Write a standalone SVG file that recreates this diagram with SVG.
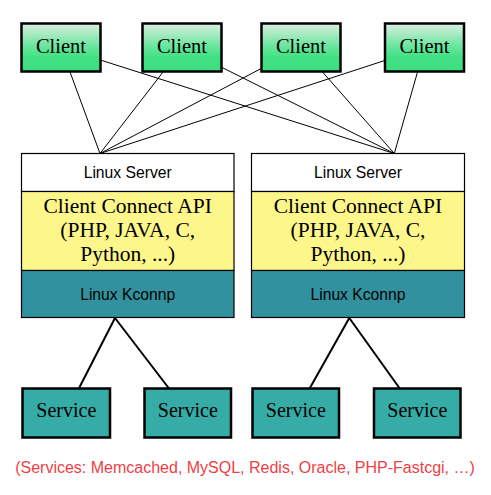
<svg xmlns="http://www.w3.org/2000/svg" width="491" height="495" viewBox="0 0 491 495">
<defs>
<linearGradient id="gClient" x1="0" y1="0" x2="0" y2="1">
<stop offset="0" stop-color="#dcefe2"/>
<stop offset="0.45" stop-color="#6ee6a0"/>
<stop offset="0.7" stop-color="#42e084"/>
<stop offset="1" stop-color="#3ede80"/>
</linearGradient>
<style>
.client rect{fill:url(#gClient);stroke:#000;stroke-width:2.5}
.service rect{fill:#35aca6;stroke:#000;stroke-width:2.5}
.serif{font-family:"Liberation Serif","Times New Roman",serif;fill:#000;text-anchor:middle}
.sans{font-family:"Liberation Sans",Arial,sans-serif;fill:#000;text-anchor:middle;font-size:15.7px}
.top{fill:#fff;stroke:#000;stroke-width:1.2}
.mid{fill:#fdf68a;stroke:#000;stroke-width:1.2}
.bot{fill:#31919e;stroke:#000;stroke-width:1.2}
.thin{stroke:#000;stroke-width:1;fill:none}
.thick{stroke:#000;stroke-width:2;fill:none}
</style>
</defs>
<rect width="491" height="495" fill="#fff"/>
<g id="connectors">
<line class="thin" x1="61" y1="47.5" x2="100" y2="153.5"/>
<line class="thin" x1="182" y1="47.5" x2="100" y2="153.5"/>
<line class="thin" x1="301" y1="47.5" x2="100" y2="153.5"/>
<line class="thin" x1="424.5" y1="47.5" x2="100" y2="153.5"/>
<line class="thin" x1="61" y1="47.5" x2="394.3" y2="153.5"/>
<line class="thin" x1="182" y1="47.5" x2="394.3" y2="153.5"/>
<line class="thin" x1="301" y1="47.5" x2="394.3" y2="153.5"/>
<line class="thin" x1="424.5" y1="47.5" x2="394.3" y2="153.5"/>
<line class="thick" x1="115" y1="318" x2="66.3" y2="413"/>
<line class="thick" x1="115" y1="318" x2="187.8" y2="413"/>
<line class="thick" x1="349.3" y1="318" x2="295.8" y2="413"/>
<line class="thick" x1="349.3" y1="318" x2="417.3" y2="413"/>
</g>
<g id="client1" class="client"><rect x="21.5" y="23.5" width="79" height="48"/><text class="serif" x="61" y="52.5" font-size="20.5">Client</text></g>
<g id="client2" class="client"><rect x="142.5" y="23.5" width="79" height="48"/><text class="serif" x="182" y="52.5" font-size="20.5">Client</text></g>
<g id="client3" class="client"><rect x="261.5" y="23.5" width="79" height="48"/><text class="serif" x="301" y="52.5" font-size="20.5">Client</text></g>
<g id="client4" class="client"><rect x="385" y="23.5" width="79" height="48"/><text class="serif" x="424.5" y="52.5" font-size="20.5">Client</text></g>
<g id="server1">
<rect class="top" x="21.5" y="153.5" width="212.5" height="38"/>
<rect class="mid" x="21.5" y="191.5" width="212.5" height="79"/>
<rect class="bot" x="21.5" y="270.5" width="212.5" height="47"/>
<text class="sans" x="127.7" y="178.3">Linux Server</text>
<text class="serif" font-size="21.5" x="127.7" y="213.3">Client Connect API</text>
<text class="serif" font-size="21.5" x="127.7" y="237.3">(PHP, JAVA, C,</text>
<text class="serif" font-size="21.5" x="127.7" y="261">Python, ...)</text>
<text class="sans" x="127.7" y="300">Linux Kconnp</text>
</g>
<g id="server2">
<rect class="top" x="251.5" y="153.5" width="213" height="38"/>
<rect class="mid" x="251.5" y="191.5" width="213" height="79"/>
<rect class="bot" x="251.5" y="270.5" width="213" height="47"/>
<text class="sans" x="358" y="178.3">Linux Server</text>
<text class="serif" font-size="21.5" x="358" y="213.3">Client Connect API</text>
<text class="serif" font-size="21.5" x="358" y="237.3">(PHP, JAVA, C,</text>
<text class="serif" font-size="21.5" x="358" y="261">Python, ...)</text>
<text class="sans" x="358" y="300">Linux Kconnp</text>
</g>
<g id="service1" class="service"><rect x="22.5" y="388.5" width="87.5" height="49"/><text class="serif" x="66.3" y="417.3" font-size="20">Service</text></g>
<g id="service2" class="service"><rect x="144.5" y="388.5" width="86.5" height="49"/><text class="serif" x="187.8" y="417.3" font-size="20">Service</text></g>
<g id="service3" class="service"><rect x="252.5" y="388.5" width="86.5" height="49"/><text class="serif" x="295.8" y="417.3" font-size="20">Service</text></g>
<g id="service4" class="service"><rect x="374" y="388.5" width="86.5" height="49"/><text class="serif" x="417.3" y="417.3" font-size="20">Service</text></g>
<text id="caption" x="245" y="472.5" font-family="'Liberation Sans',Arial,sans-serif" font-size="16" fill="#ee3f45" text-anchor="middle">(Services: Memcached, MySQL, Redis, Oracle, PHP-Fastcgi, …)</text>
</svg>
